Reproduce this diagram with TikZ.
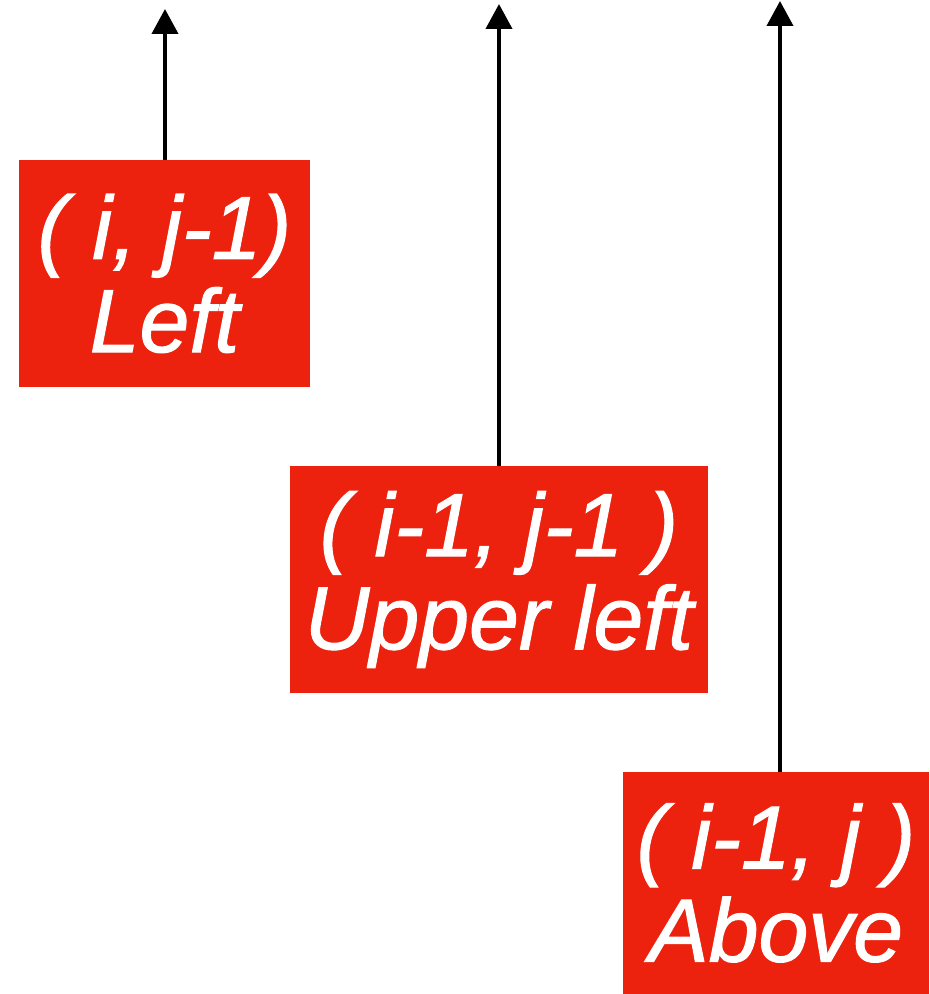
\documentclass[tikz,border=0pt]{standalone}
\usepackage{fontspec}
\setmainfont{Liberation Sans}[ItalicFeatures={FakeBold=1.2}]
\usetikzlibrary{arrows.meta}
\definecolor{cellred}{RGB}{236,34,14}

\begin{document}
\begin{tikzpicture}[
    >={Triangle[length=0.5cm,width=0.52cm]},
    cell/.style={fill=cellred, text=white, inner sep=0pt, align=center,
      font=\fontsize{51}{53}\selectfont\itshape},
    link/.style={->, line width=0.08cm}
  ]
    \useasboundingbox (0,0) rectangle (18.58,19.88);

    \node[cell, minimum width=5.82cm, minimum height=4.54cm] (left) at (3.29,14.41)
      {( i, j-1)\\Left};
    \node[cell, minimum width=8.36cm, minimum height=4.54cm] (upleft) at (9.98,8.29)
      {( i-1, j-1 )\\Upper left};
    \node[cell, minimum width=6.12cm, minimum height=4.44cm] (above) at (15.52,2.22)
      {( i-1, j )\\Above};

    \coordinate (topL) at (3.3,19.7);
    \coordinate (topU) at (9.98,19.8);
    \coordinate (topA) at (15.6,19.86);

    \draw[link] (left.north -| topL) -- (topL);
    \draw[link] (upleft.north -| topU) -- (topU);
    \draw[link] (above.north -| topA) -- (topA);
  \end{tikzpicture}
\end{document}
